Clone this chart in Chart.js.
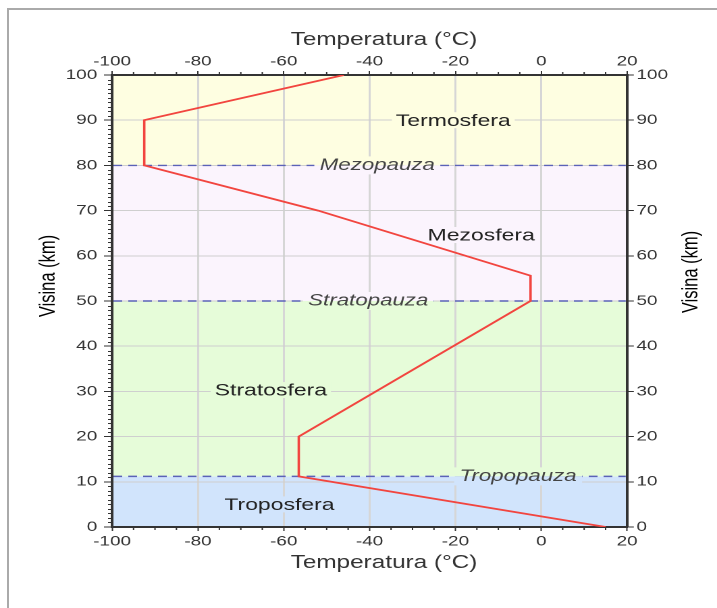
<!DOCTYPE html>
<html>
<head>
<meta charset="utf-8">
<script src="https://cdn.jsdelivr.net/npm/chart.js@4"></script>
<style>
  html, body { margin: 0; padding: 0; background: #fff; overflow: hidden; }
  #frame { position: absolute; left: 7px; top: 8px; width: 720px; height: 610px;
           border-top: 2px solid #aaa; border-left: 2px solid #aaa; }
  /* the original figure is stretched sideways, so the chart is drawn narrow and widened */
  #wrap { position: absolute; left: 0; top: 0; width: 531px; height: 608px;
          transform: scaleX(1.3503); transform-origin: 0 0; }
</style>
</head>
<body>
<div id="frame"></div>
<div id="wrap"><canvas id="atmoChart"></canvas></div>
<script>
// temperatura po visini
const altitudes    = [0, 11.2, 20, 50, 55.6, 70, 80, 90, 100];
const temperatures = [15, -56.5, -56.5, -2.5, -2.5, -52, -92.5, -92.5, -46];

// slojevi atmosfere
const layerNames  = ['Troposfera', 'Stratosfera', 'Mezosfera', 'Termosfera'];
const layerTops   = [11.2, 50, 80, 100];
const layerLabelT = [-61, -63, -14, -20.5];
const layerLabelH = [5, 30.3, 64.6, 90];
const layerColors = ['#d1e4fc', '#e6fcd9', '#fbf4fd', '#fefee1'];

// granice (pauze)
const pauseNames  = ['Tropopauza', 'Stratopauza', 'Mezopauza'];
const pauseAlts   = [11.2, 50, 80];
const pauseLabelT = [-5.4, -40.3, -38.2];

const tempTicks = [-100, -80, -60, -40, -20, 0, 20];
const altTicks  = [0, 10, 20, 30, 40, 50, 60, 70, 80, 90, 100];

const FONT = 'Liberation Sans, Arial, sans-serif';

function fixTicks(list) {
  return function (scale) { scale.ticks = list.map(v => ({ value: v })); };
}

const deco = {
  id: 'deco',
  beforeDraw(chart) {
    const { ctx, chartArea: a, scales: { y } } = chart;
    let prev = 0;
    layerTops.forEach((top, i) => {
      const y0 = y.getPixelForValue(prev), y1 = y.getPixelForValue(top);
      ctx.fillStyle = layerColors[i];
      ctx.fillRect(a.left, y1, a.right - a.left, y0 - y1);
      prev = top;
    });
  },
  beforeDatasetsDraw(chart) {
    const { ctx, chartArea: a, scales: { x, y } } = chart;
    ctx.save();
    // dashed lines at the pauses
    ctx.strokeStyle = '#5b62b8';
    ctx.lineWidth = 1.4;
    ctx.setLineDash([6.5, 4.5]);
    pauseAlts.forEach(h => {
      const py = y.getPixelForValue(h);
      ctx.beginPath();
      ctx.moveTo(a.left + 1, py);
      ctx.lineTo(a.right - 1, py);
      ctx.stroke();
    });
    ctx.setLineDash([]);

    // layer names
    ctx.font = '17px ' + FONT;
    ctx.textAlign = 'center';
    ctx.textBaseline = 'middle';
    layerNames.forEach((name, i) => {
      const px = x.getPixelForValue(layerLabelT[i]), py = y.getPixelForValue(layerLabelH[i]);
      const w = ctx.measureText(name).width;
      ctx.fillStyle = layerColors[i];
      ctx.fillRect(px - w / 2 - 3, py - 8, w + 6, 16);
      ctx.fillStyle = '#222';
      ctx.fillText(name, px, py + 1);
    });

    // pause names
    ctx.font = 'italic 16.5px ' + FONT;
    pauseNames.forEach((name, i) => {
      const px = x.getPixelForValue(pauseLabelT[i]), py = y.getPixelForValue(pauseAlts[i]);
      const w = ctx.measureText(name).width;
      ctx.fillStyle = layerColors[i + 1];
      ctx.fillRect(px - w / 2 - 4, py - 9, w + 8, 9);
      ctx.fillStyle = layerColors[i];
      ctx.fillRect(px - w / 2 - 4, py, w + 8, 9);
      ctx.fillStyle = '#444';
      ctx.fillText(name, px, py);
    });
    ctx.restore();
  },
  afterDraw(chart) {
    const { ctx, chartArea: a, scales: { x, y } } = chart;
    ctx.save();
    // minor ticks
    ctx.strokeStyle = '#333';
    ctx.lineWidth = 1;
    ctx.beginPath();
    for (let t = -95; t < 20; t += 5) {
      if (t % 20 === 0) continue;
      const px = x.getPixelForValue(t);
      ctx.moveTo(px, a.top); ctx.lineTo(px, a.top - 3);
      ctx.moveTo(px, a.bottom); ctx.lineTo(px, a.bottom + 3);
    }
    for (let h = 1; h < 100; h++) {
      if (h % 10 === 0) continue;
      const py = Math.round(y.getPixelForValue(h)) + 0.5;
      ctx.moveTo(a.left, py); ctx.lineTo(a.left - 3, py);
    }
    ctx.stroke();

    // axis titles
    ctx.fillStyle = '#333';
    ctx.font = '18px ' + FONT;
    ctx.textAlign = 'center';
    ctx.textBaseline = 'alphabetic';
    ctx.fillText('Temperatura (°C)', 284.4, 45);
    ctx.fillText('Temperatura (°C)', 284.4, 568);
    ctx.font = '16.5px ' + FONT;
    [[40.7, 276], [516.3, 272]].forEach(([tx, ty]) => {
      ctx.save();
      ctx.translate(tx, ty);
      ctx.rotate(-Math.PI / 2);
      ctx.fillStyle = '#000';
      ctx.fillText('Visina (km)', 0, 0);
      ctx.restore();
    });
    ctx.restore();
  }
};

const tickFont = { family: FONT, size: 14 };

new Chart(document.getElementById('atmoChart'), {
  type: 'scatter',
  data: {
    datasets: [{
      label: 'Temperatura',
      data: altitudes.map((h, i) => ({ x: temperatures[i], y: h })),
      showLine: true,
      borderColor: '#f2453f',
      borderWidth: 1.8,
      pointRadius: 0,
      tension: 0
    }]
  },
  options: {
    responsive: true,
    maintainAspectRatio: false,
    animation: false,
    devicePixelRatio: 2,
    layout: { padding: 0 },
    plugins: { legend: { display: false }, tooltip: { enabled: false } },
    scales: {
      x: {
        type: 'linear', position: 'bottom', min: -100, max: 20,
        afterBuildTicks: fixTicks(tempTicks),
        afterFit(s) { s.height = 81; },
        grid: { color: '#d6d6d6', lineWidth: 1.5, tickLength: 4, tickColor: '#333', tickWidth: 1 },
        border: { color: '#333', width: 2 },
        ticks: { font: tickFont, color: '#333', padding: 2, maxRotation: 0 }
      },
      xTop: {
        type: 'linear', position: 'top', min: -100, max: 20,
        afterBuildTicks: fixTicks(tempTicks),
        afterFit(s) { s.height = 75; },
        grid: { drawOnChartArea: false, tickLength: 4, tickColor: '#333', tickWidth: 1 },
        border: { color: '#333', width: 2 },
        ticks: { font: tickFont, color: '#333', padding: 1, maxRotation: 0 }
      },
      y: {
        type: 'linear', position: 'left', min: 0, max: 100,
        afterBuildTicks: fixTicks(altTicks),
        afterFit(s) { s.width = 83; },
        grid: { color: '#cfcfcf', lineWidth: 1, tickLength: 6, tickColor: '#333', tickWidth: 1 },
        border: { color: '#333', width: 2 },
        ticks: { font: tickFont, color: '#333', padding: 5 }
      },
      yRight: {
        type: 'linear', position: 'right', min: 0, max: 100,
        afterBuildTicks: fixTicks(altTicks),
        afterFit(s) { s.width = 531 - 464.4; },
        grid: { drawOnChartArea: false, tickLength: 5, tickColor: '#333', tickWidth: 1 },
        border: { color: '#333', width: 2 },
        ticks: { font: tickFont, color: '#333', padding: 2 }
      }
    }
  },
  plugins: [deco]
});
</script>
</body>
</html>
